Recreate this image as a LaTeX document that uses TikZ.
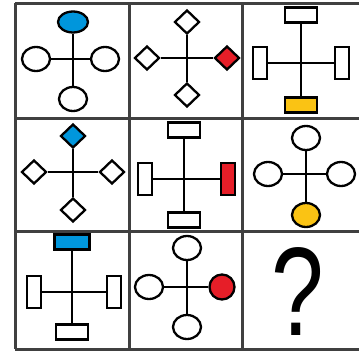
\documentclass[tikz,border=0pt]{standalone}
\usepackage{fontspec}
\setmainfont{Liberation Sans}
\usetikzlibrary{shapes.geometric}
\definecolor{biru}{RGB}{0,150,220}
\definecolor{merah}{RGB}{230,30,40}
\definecolor{kuning}{RGB}{250,195,20}
\begin{document}
\begin{tikzpicture}[x=1pt,y=-1pt,
      bentuk/.style={draw,line width=2.3pt,fill=white,inner sep=0pt},
      lonjong/.style={bentuk,ellipse,minimum width=28pt,minimum height=24pt},
      belah/.style={bentuk,diamond,minimum width=25pt,minimum height=24pt},
      datar/.style={bentuk,rectangle,minimum width=32pt,minimum height=15pt},
      tegak/.style={bentuk,rectangle,minimum width=14pt,minimum height=32pt},
      lengan/.style={line width=2.3pt},
      garis/.style={black!75,line width=3pt}]
    \useasboundingbox (0,0) rectangle (359,351);

    % --- Kisi 3x3, sisi kanan terpotong di tepi gambar ----------------------
    \draw[garis] (15,3) -- (362,3);
    \draw[garis] (15,118) -- (362,118);
    \draw[garis] (15,231) -- (362,231);
    \draw[garis] (15,349) -- (362,349);
    \draw[garis] (15,3) -- (15,349);
    \draw[garis] (129,3) -- (129,349);
    \draw[garis] (242,3) -- (242,349);

    % --- Baris 1 ------------------------------------------------------------
    \node[lonjong,fill=biru,minimum width=30pt,minimum height=21pt] (a1t) at (73,22) {};
    \node[lonjong] (a1l) at (36,59) {};
    \node[lonjong] (a1r) at (105,59) {};
    \node[lonjong] (a1b) at (73,99) {};
    \node[belah] (a2t) at (187,22) {};
    \node[belah] (a2l) at (147,58) {};
    \node[belah,fill=merah] (a2r) at (227,58) {};
    \node[belah] (a2b) at (187,95) {};
    \node[datar] (a3t) at (301,15) {};
    \node[tegak] (a3l) at (260,63) {};
    \node[tegak] (a3r) at (342,63) {};
    \node[datar,fill=kuning] (a3b) at (301,105) {};

    % --- Baris 2 ------------------------------------------------------------
    \node[belah,fill=biru] (b1t) at (73,136) {};
    \node[belah] (b1l) at (34,172) {};
    \node[belah] (b1r) at (112,172) {};
    \node[belah] (b1b) at (73,210) {};
    \node[datar] (b2t) at (184,130) {};
    \node[tegak] (b2l) at (145,179) {};
    \node[tegak,fill=merah] (b2r) at (228,179) {};
    \node[datar] (b2b) at (184,220) {};
    \node[lonjong] (b3t) at (306,138) {};
    \node[lonjong] (b3l) at (268,174) {};
    \node[lonjong] (b3r) at (341,174) {};
    \node[lonjong,fill=kuning] (b3b) at (306,215) {};

    % --- Baris 3 ------------------------------------------------------------
    \node[datar,fill=biru,minimum width=35pt] (c1t) at (72,242) {};
    \node[tegak] (c1l) at (34,292) {};
    \node[tegak] (c1r) at (114,292) {};
    \node[datar] (c1b) at (72,332) {};
    \node[lonjong] (c2t) at (187,248) {};
    \node[lonjong] (c2l) at (149,287) {};
    \node[lonjong,fill=merah,minimum width=25pt,minimum height=25pt] (c2r) at (222,287) {};
    \node[lonjong] (c2b) at (187,327) {};
    \node[anchor=base,inner sep=0pt,font=\fontsize{126}{126}\selectfont]
      (tanya) at (298,335) {\scalebox{0.75}[1]{?}};

    % --- Lengan silang ------------------------------------------------------
    \foreach \s in {a1,a2,a3,b1,b2,b3,c1,c2} {
      \draw[lengan] (\s t) -- (\s b);
      \draw[lengan] (\s l) -- (\s r);
    }
  \end{tikzpicture}
\end{document}
